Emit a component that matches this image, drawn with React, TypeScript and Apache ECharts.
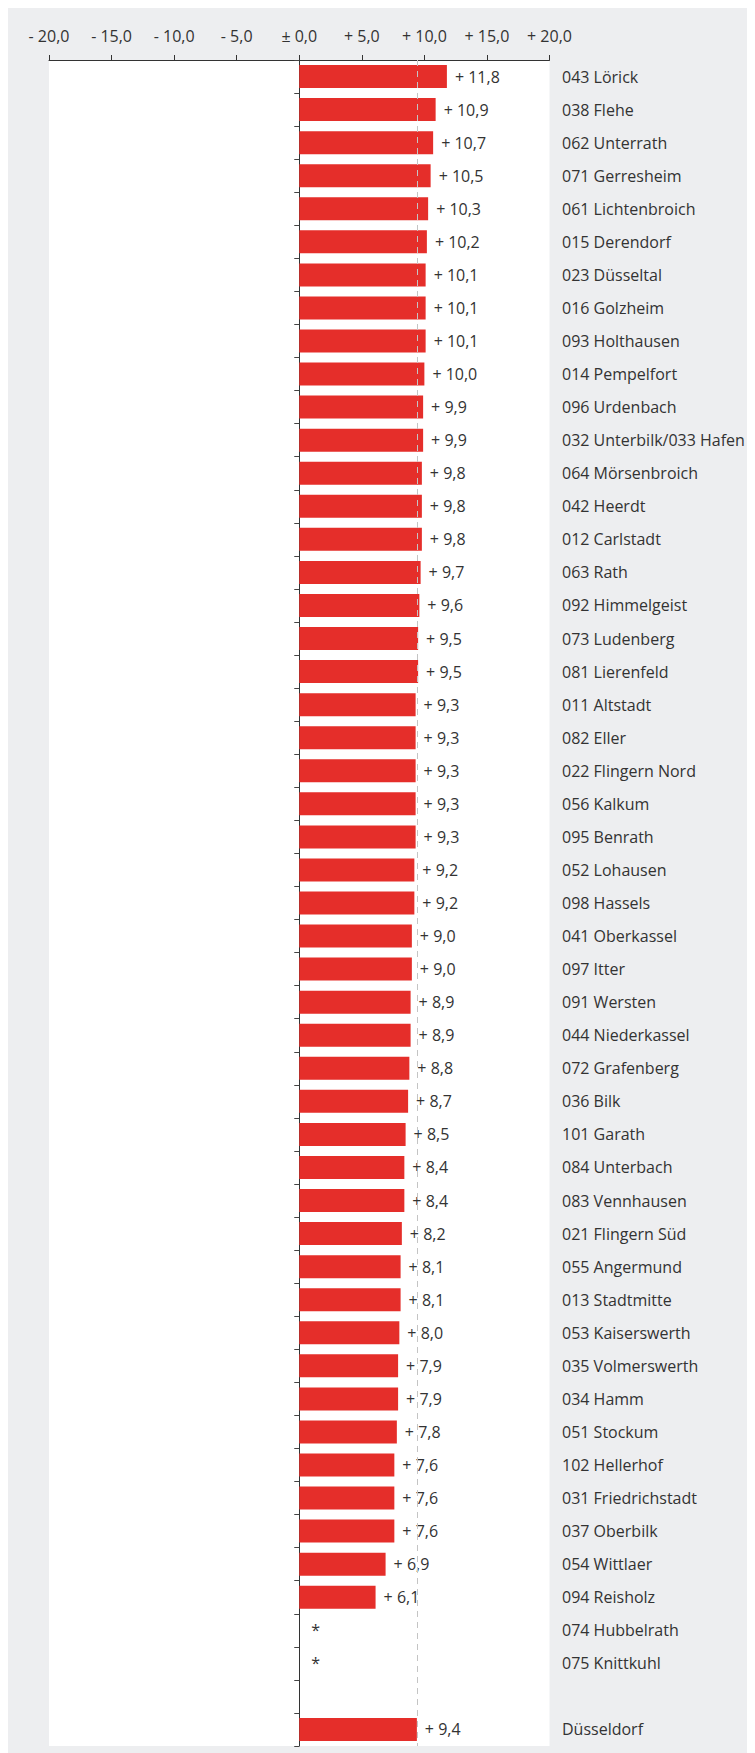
import React, { useEffect, useRef } from "react";
import * as echarts from "echarts";

const districts: string[] = [
  "043 Lörick", "038 Flehe", "062 Unterrath", "071 Gerresheim", "061 Lichtenbroich",
  "015 Derendorf", "023 Düsseltal", "016 Golzheim", "093 Holthausen", "014 Pempelfort",
  "096 Urdenbach", "032 Unterbilk/033 Hafen", "064 Mörsenbroich", "042 Heerdt", "012 Carlstadt",
  "063 Rath", "092 Himmelgeist", "073 Ludenberg", "081 Lierenfeld", "011 Altstadt",
  "082 Eller", "022 Flingern Nord", "056 Kalkum", "095 Benrath", "052 Lohausen",
  "098 Hassels", "041 Oberkassel", "097 Itter", "091 Wersten", "044 Niederkassel",
  "072 Grafenberg", "036 Bilk", "101 Garath", "084 Unterbach", "083 Vennhausen",
  "021 Flingern Süd", "055 Angermund", "013 Stadtmitte", "053 Kaiserswerth", "035 Volmerswerth",
  "034 Hamm", "051 Stockum", "102 Hellerhof", "031 Friedrichstadt", "037 Oberbilk",
  "054 Wittlaer", "094 Reisholz", "074 Hubbelrath", "075 Knittkuhl", "", "Düsseldorf",
];

// null = no value ("*"); blank separator row listed in blankRows
const changes: (number | null)[] = [
  11.8, 10.9, 10.7, 10.5, 10.3,
  10.2, 10.1, 10.1, 10.1, 10.0,
  9.9, 9.9, 9.8, 9.8, 9.8,
  9.7, 9.6, 9.5, 9.5, 9.3,
  9.3, 9.3, 9.3, 9.3, 9.2,
  9.2, 9.0, 9.0, 8.9, 8.9,
  8.8, 8.7, 8.5, 8.4, 8.4,
  8.2, 8.1, 8.1, 8.0, 7.9,
  7.9, 7.8, 7.6, 7.6, 7.6,
  6.9, 6.1, null, null, null, 9.4,
];

const blankRows: number[] = [49];
const cityAverage = 9.4;

const xTicks = { min: -20, max: 20, interval: 5 };

const fmt = (v: number) => {
  if (v === 0) return "± 0,0";
  return (v > 0 ? "+ " : "- ") + Math.abs(v).toFixed(1).replace(".", ",");
};

const FONT = "'Open Sans', sans-serif";
const TEXT = "#333333";
const FS = 16;

export default function App() {
  const ref = useRef<HTMLDivElement>(null);
  useEffect(() => {
    if (!ref.current) return;
    const chart = echarts.init(ref.current, undefined, { renderer: "svg" });
    const data = changes.map((v, i) => {
      if (v === null) {
        if (blankRows.includes(i)) return { value: null };
        return {
          value: 0,
          label: { show: true, formatter: "*", position: "right", distance: 12 },
        };
      }
      return { value: v };
    });
    chart.setOption({
      animation: false,
      backgroundColor: "#edeef0",
      textStyle: { fontFamily: FONT },
      grid: {
        left: 41,
        right: 205.5,
        top: 52,
        height: 1686,
        show: true,
        backgroundColor: "#ffffff",
        borderWidth: 0,
        containLabel: false,
      },
      xAxis: {
        type: "value",
        position: "top",
        min: xTicks.min,
        max: xTicks.max,
        interval: xTicks.interval,
        axisLine: { show: true, lineStyle: { color: "#333", width: 1 } },
        axisTick: { show: true, length: 5, lineStyle: { color: "#333" } },
        splitLine: { show: false },
        axisLabel: {
          formatter: fmt,
          color: TEXT,
          fontSize: FS,
          fontFamily: FONT,
          margin: 16,
        },
      },
      yAxis: [
        {
          type: "category",
          data: districts,
          inverse: true,
          axisLine: { show: true, onZero: true, lineStyle: { color: "#333", width: 1 } },
          axisTick: { show: true, length: 5, alignWithLabel: false, lineStyle: { color: "#444" } },
          axisLabel: { show: false },
          splitLine: { show: false },
        },
        {
          type: "category",
          data: districts,
          inverse: true,
          position: "right",
          axisLine: { show: false },
          axisTick: { show: false },
          axisLabel: {
            show: true,
            color: TEXT,
            fontSize: FS,
            fontFamily: FONT,
            margin: 12.5,
            align: "left",
          },
          splitLine: { show: false },
        },
      ],
      series: [
        {
          type: "bar",
          yAxisIndex: 0,
          data,
          barWidth: 23,
          itemStyle: { color: "#e52e2a" },
          label: {
            show: true,
            position: "right",
            distance: 8,
            color: TEXT,
            fontSize: FS,
            fontFamily: FONT,
            formatter: (p: any) => fmt(p.value),
          },
          markLine: {
            silent: true,
            symbol: "none",
            label: { show: false },
            lineStyle: { color: "#c4c4c4", type: [6, 5], width: 1 },
            data: [{ xAxis: cityAverage }],
          },
        },
      ],
    });
    return () => chart.dispose();
  }, []);
  return <div ref={ref} style={{ width: 747, height: 1745 }} />;
}
